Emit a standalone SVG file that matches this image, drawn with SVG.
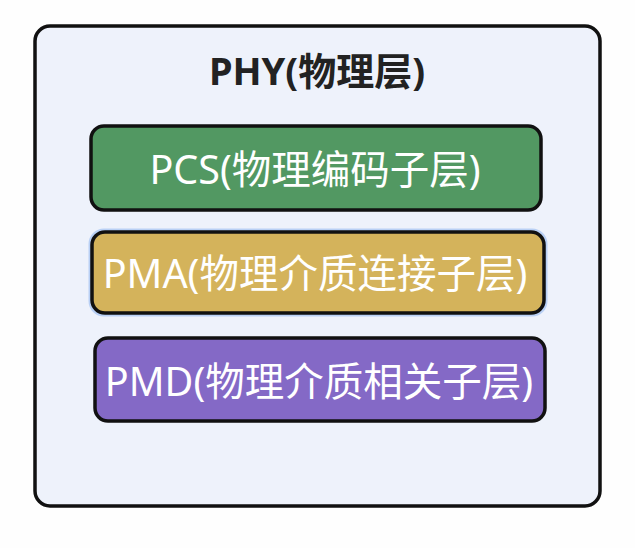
<svg xmlns="http://www.w3.org/2000/svg" width="635" height="548" viewBox="0 0 635 548">
<style>
.box{stroke:#111;stroke-width:3.5}
.lbl{font-family:"Noto Sans","Noto Sans CJK SC",sans-serif;font-size:39.5px;fill:#fff;text-anchor:middle;dominant-baseline:central}
.title{font-family:"Noto Sans","Noto Sans CJK SC",sans-serif;font-size:38px;font-weight:bold;fill:#222;text-anchor:middle;dominant-baseline:central}
</style>
<rect width="635" height="548" fill="#fefefe"/>
<g id="phy">
<rect class="box" x="35" y="26" width="565" height="480" rx="15" fill="#eef2fb"/>
<text class="title" x="317" y="70">PHY(物理层)</text>
</g>
<g id="pcs">
<rect class="box" x="91" y="126" width="450" height="84" rx="13" fill="#529862"/>
<text class="lbl" x="315" y="169">PCS(物理编码子层)</text>
</g>
<g id="pma">
<rect x="90" y="230" width="456" height="85" rx="14" fill="none" stroke="#b9d0f5" stroke-width="3"/>
<rect class="box" x="92" y="232" width="452" height="81" rx="13" fill="#d4b35b"/>
<text class="lbl" x="315" y="273">PMA(物理介质连接子层)</text>
</g>
<g id="pmd">
<rect class="box" x="95" y="338" width="450" height="83" rx="13" fill="#8469c6"/>
<text class="lbl" x="319" y="381">PMD(物理介质相关子层)</text>
</g>
<g id="connectors"/>
</svg>
